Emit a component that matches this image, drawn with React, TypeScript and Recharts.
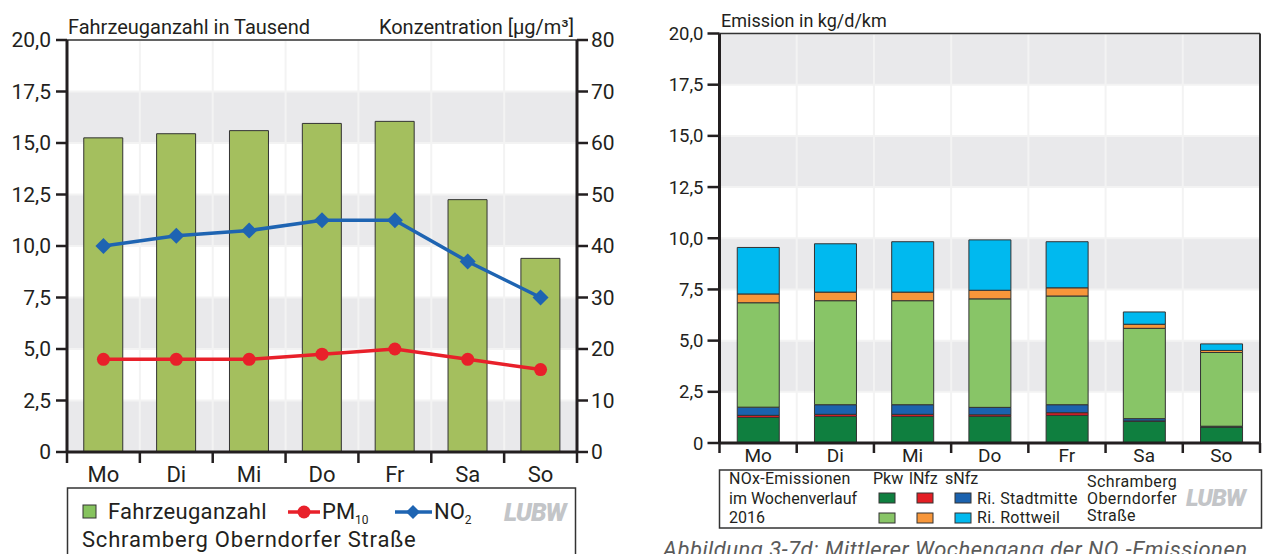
import React from 'react'
import {
  ComposedChart, BarChart, Bar, Line, XAxis, YAxis, CartesianGrid, ReferenceLine,
} from 'recharts'

// Wochentage
const days = ['Mo', 'Di', 'Mi', 'Do', 'Fr', 'Sa', 'So']

// linkes Diagramm: Verkehr und Konzentrationen
const vehicles = [15.25, 15.45, 15.6, 15.95, 16.05, 12.25, 9.4] // Tausend
const pm10 = [18, 18, 18, 19, 20, 18, 16] // µg/m³
const no2 = [40, 42, 43, 45, 45, 37, 30] // µg/m³

// rechtes Diagramm: NOx-Emissionen kg/d/km
const pkwStadt = [1.25, 1.3, 1.3, 1.3, 1.35, 1.06, 0.78]
const lnfzStadt = [0.1, 0.1, 0.1, 0.08, 0.13, 0.02, 0.01]
const snfzStadt = [0.4, 0.47, 0.47, 0.36, 0.39, 0.11, 0.03]
const pkwRott = [5.1, 5.08, 5.08, 5.3, 5.31, 4.41, 3.6]
const lnfzRott = [0.43, 0.42, 0.42, 0.42, 0.4, 0.2, 0.1]
const snfzRott = [2.27, 2.36, 2.46, 2.46, 2.25, 0.6, 0.32]

const leftTicks = [0, 2.5, 5, 7.5, 10, 12.5, 15, 17.5, 20]
const rightTicks = [0, 10, 20, 30, 40, 50, 60, 70, 80]

const FONT = 'Roboto, "Liberation Sans", sans-serif'
const AXIS = '#231f20'
const BAND = '#e9e9eb'
const GRIDV = '#f3f3f3'

const C = {
  bar: '#a4bf5e',
  legendBar: '#86c35e',
  pm: '#e8202a',
  no2: '#1e64b2',
  pkwSt: '#0f7f3f',
  lnfzSt: '#e31e24',
  snfzSt: '#1b62ae',
  pkwRo: '#88c567',
  lnfzRo: '#f7963a',
  snfzRo: '#00b9ef',
}

const trafficData = days.map((d, i) => ({ day: d, vehicles: vehicles[i], pm10: pm10[i], no2: no2[i] }))
const emissionData = days.map((d, i) => ({
  day: d,
  pkwSt: pkwStadt[i], lnfzSt: lnfzStadt[i], snfzSt: snfzStadt[i],
  pkwRo: pkwRott[i], lnfzRo: lnfzRott[i], snfzRo: snfzRott[i],
}))

const deNum = (v: number) => (v === 0 ? '0' : v.toFixed(1).replace('.', ','))

// layout of the two charts
const L = { w: 640, h: 490, top: 40, yl: 67, yr: 63, xh: 38 }
const R = { w: 623, h: 470, top: 33.5, yl: 79.5, yr: 3, xh: 27 }
const lPlotW = L.w - L.yl - L.yr
const rPlotW = R.w - R.yl - R.yr

const boundaries = (left: number, width: number) =>
  days.slice(1).map((_, i) => left + ((i + 1) * width) / days.length)

function DayTick(props: any) {
  const { x, y, payload, index, half, labelDy, fontSize, tickLen } = props
  return (
    <g>
      <line x1={x - half} x2={x - half} y1={y} y2={y + tickLen} stroke={AXIS} strokeWidth={2.5} />
      {index === days.length - 1 && (
        <line x1={x + half} x2={x + half} y1={y} y2={y + tickLen} stroke={AXIS} strokeWidth={2.5} />
      )}
      <text x={x} y={y + labelDy} textAnchor="middle" fontSize={fontSize} fill="#231f20" fontFamily={FONT}>
        {payload.value}
      </text>
    </g>
  )
}

function Diamond(props: any) {
  const { cx, cy, index } = props
  const s = 8
  return (
    <path
      key={`d-${index}`}
      d={`M${cx},${cy - s}L${cx + s},${cy}L${cx},${cy + s}L${cx - s},${cy}Z`}
      fill={C.no2}
    />
  )
}

function TrafficChart() {
  return (
    <ComposedChart
      width={L.w}
      height={L.h}
      data={trafficData}
      margin={{ top: L.top, right: 0, bottom: 0, left: 0 }}
      barCategoryGap="23%"
    >
      <CartesianGrid
        yAxisId="left"
        stroke={GRIDV}
        strokeWidth={2}
        horizontalFill={['#ffffff', BAND]}
        verticalPoints={boundaries(L.yl, lPlotW)}
      />
      <XAxis
        dataKey="day"
        height={L.xh}
        tickSize={0}
        tickMargin={0}
        axisLine={{ stroke: AXIS, strokeWidth: 3 }}
        tickLine={false}
        tick={<DayTick half={lPlotW / 14} labelDy={30} fontSize={22} tickLen={11} />}
      />
      <YAxis
        yAxisId="left"
        width={L.yl}
        domain={[0, 20]}
        ticks={leftTicks}
        interval={0}
        tickFormatter={deNum}
        tickSize={11}
        tickMargin={5}
        axisLine={{ stroke: AXIS, strokeWidth: 3 }}
        tickLine={{ stroke: AXIS, strokeWidth: 2.5 }}
        tick={{ fill: '#231f20', fontSize: 21, fontFamily: FONT }}
      />
      <YAxis
        yAxisId="right"
        orientation="right"
        width={L.yr}
        domain={[0, 80]}
        ticks={rightTicks}
        interval={0}
        tickSize={11}
        tickMargin={3}
        axisLine={{ stroke: AXIS, strokeWidth: 3 }}
        tickLine={{ stroke: AXIS, strokeWidth: 2.5 }}
        tick={{ fill: '#231f20', fontSize: 21, fontFamily: FONT }}
      />
      <ReferenceLine yAxisId="left" y={20} stroke="#333" strokeWidth={1.5} />
      <Bar yAxisId="left" dataKey="vehicles" fill={C.bar} stroke="#333" strokeWidth={1} isAnimationActive={false} />
      <Line
        yAxisId="right"
        dataKey="pm10"
        stroke={C.pm}
        strokeWidth={3.5}
        dot={{ r: 6.5, fill: C.pm, stroke: C.pm, strokeWidth: 0 }}
        activeDot={false}
        isAnimationActive={false}
      />
      <Line
        yAxisId="right"
        dataKey="no2"
        stroke={C.no2}
        strokeWidth={3.5}
        dot={<Diamond />}
        activeDot={false}
        isAnimationActive={false}
      />
    </ComposedChart>
  )
}

function EmissionChart() {
  const seg = (key: string, color: string) => (
    <Bar
      key={key}
      yAxisId="y"
      dataKey={key}
      stackId="nox"
      fill={color}
      stroke="#333"
      strokeWidth={1}
      isAnimationActive={false}
    />
  )
  return (
    <BarChart
      width={R.w}
      height={R.h}
      data={emissionData}
      margin={{ top: R.top, right: 0, bottom: 0, left: 0 }}
      barCategoryGap="23%"
    >
      <CartesianGrid
        yAxisId="y"
        stroke={GRIDV}
        strokeWidth={2}
        horizontalFill={['#ffffff', BAND]}
        verticalPoints={boundaries(R.yl, rPlotW)}
      />
      <XAxis
        dataKey="day"
        height={R.xh}
        tickSize={0}
        tickMargin={0}
        axisLine={{ stroke: AXIS, strokeWidth: 3 }}
        tickLine={false}
        tick={<DayTick half={rPlotW / 14} labelDy={19} fontSize={19} tickLen={10} />}
      />
      <YAxis
        yAxisId="y"
        width={R.yl}
        domain={[0, 20]}
        ticks={leftTicks}
        interval={0}
        tickFormatter={deNum}
        tickSize={12}
        tickMargin={4}
        axisLine={{ stroke: AXIS, strokeWidth: 3 }}
        tickLine={{ stroke: AXIS, strokeWidth: 2.5 }}
        tick={{ fill: '#231f20', fontSize: 18.5, fontFamily: FONT }}
      />
      <YAxis
        yAxisId="frame"
        orientation="right"
        width={R.yr}
        tick={false}
        tickLine={false}
        axisLine={{ stroke: '#333', strokeWidth: 2 }}
      />
      <ReferenceLine yAxisId="y" y={20} stroke="#333" strokeWidth={1.5} />
      {seg('pkwSt', C.pkwSt)}
      {seg('lnfzSt', C.lnfzSt)}
      {seg('snfzSt', C.snfzSt)}
      {seg('pkwRo', C.pkwRo)}
      {seg('lnfzRo', C.lnfzRo)}
      {seg('snfzRo', C.snfzRo)}
    </BarChart>
  )
}

function Logo({ x, y, size }: { x: number; y: number; size: number }) {
  return (
    <text x={x} y={y} fontSize={size} fontStyle="italic" fontWeight={900} fill="#c3c5c8" fontFamily={FONT} letterSpacing={-1}>
      LUBW
    </text>
  )
}

function Overlay() {
  const t = { fontFamily: FONT, fill: '#231f20' }
  const sq = (x: number, y: number, c: string) => (
    <rect x={x} y={y} width={16} height={10} fill={c} stroke="#333" strokeWidth={1} />
  )
  return (
    <svg width={1263} height={554} style={{ position: 'absolute', left: 0, top: 0 }}>
      {/* titles */}
      <text x={68} y={34} fontSize={20} {...t}>Fahrzeuganzahl in Tausend</text>
      <text x={574} y={34} fontSize={20} textAnchor="end" {...t}>Konzentration [µg/m³]</text>
      <text x={721} y={27} fontSize={18} {...t}>Emission in kg/d/km</text>

      {/* left legend */}
      <rect x={67.5} y={488} width={508} height={80} fill="none" stroke="#333" strokeWidth={1.5} />
      <rect x={83} y={505} width={13} height={13} fill={C.legendBar} stroke="#333" strokeWidth={1} />
      <text x={108} y={519} fontSize={22} letterSpacing={0.3} {...t}>Fahrzeuganzahl</text>
      <line x1={288} x2={320} y1={512} y2={512} stroke={C.pm} strokeWidth={3.5} />
      <circle cx={304} cy={512} r={6.5} fill={C.pm} />
      <text x={322} y={519} fontSize={22} {...t}>PM<tspan fontSize={12} dy={5}>10</tspan></text>
      <line x1={395} x2={432} y1={512} y2={512} stroke={C.no2} strokeWidth={3.5} />
      <path d="M413,505L420,512L413,519L406,512Z" fill={C.no2} />
      <text x={434} y={519} fontSize={22} {...t}>NO<tspan fontSize={12} dy={5}>2</tspan></text>
      <Logo x={504} y={521} size={25} />
      <text x={82} y={547} fontSize={22} letterSpacing={0.8} {...t}>Schramberg Oberndorfer Straße</text>

      {/* right legend */}
      <rect x={719.5} y={470} width={542} height={58} fill="none" stroke="#333" strokeWidth={1.5} />
      <text x={729} y={484} fontSize={16} letterSpacing={0.3} {...t}>NOx-Emissionen</text>
      <text x={729} y={503.5} fontSize={16} {...t}>im Wochenverlauf</text>
      <text x={729} y={523} fontSize={16} {...t}>2016</text>
      <text x={873} y={484} fontSize={16} {...t}>Pkw</text>
      <text x={909} y={484} fontSize={16} {...t}>lNfz</text>
      <text x={945} y={484} fontSize={16} {...t}>sNfz</text>
      {sq(879, 493, C.pkwSt)}
      {sq(917, 493, C.lnfzSt)}
      {sq(955, 493, C.snfzSt)}
      {sq(879, 513, C.pkwRo)}
      {sq(917, 513, C.lnfzRo)}
      {sq(955, 513, C.snfzRo)}
      <text x={977} y={503.5} fontSize={16} letterSpacing={0.3} {...t}>Ri. Stadtmitte</text>
      <text x={977} y={523} fontSize={16} letterSpacing={0.3} {...t}>Ri. Rottweil</text>
      <text x={1087} y={486.5} fontSize={16} letterSpacing={0.4} {...t}>Schramberg</text>
      <text x={1087} y={503.5} fontSize={16} letterSpacing={0.4} {...t}>Oberndorfer</text>
      <text x={1087} y={520.5} fontSize={16} letterSpacing={0.4} {...t}>Straße</text>
      <Logo x={1186} y={506} size={24} />

      {/* caption */}
      <text x={663} y={557} fontSize={22} letterSpacing={0.5} fontStyle="italic" fill="#5a5a5a" fontFamily={FONT}>
        Abbildung 3-7d: Mittlerer Wochengang der NO<tspan fontSize={13} dy={4}>x</tspan><tspan dy={-4}>-Emissionen</tspan>
      </text>
    </svg>
  )
}

export default function App() {
  return (
    <div style={{ position: 'absolute', left: 0, top: 0, width: 1263, height: 554, overflow: 'hidden', background: '#fff', fontFamily: FONT }}>
      <div style={{ position: 'absolute', left: 0, top: 0 }}>
        <TrafficChart />
      </div>
      <div style={{ position: 'absolute', left: 640, top: 0 }}>
        <EmissionChart />
      </div>
      <Overlay />
    </div>
  )
}
